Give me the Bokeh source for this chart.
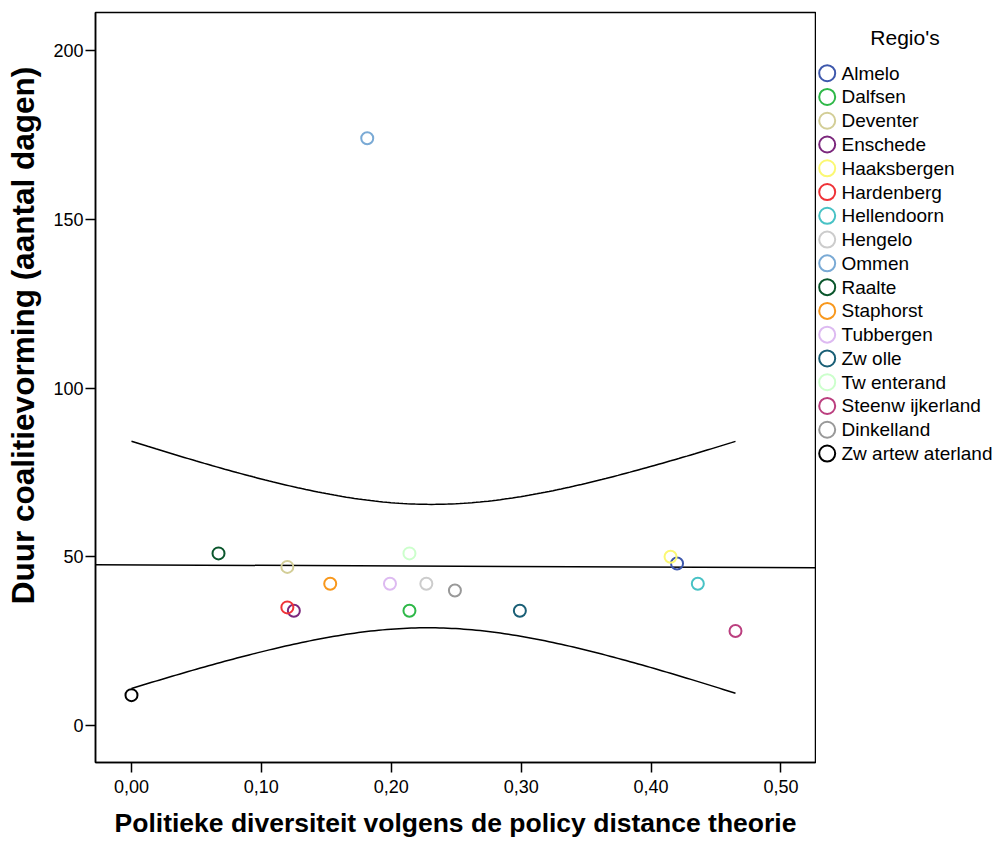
import numpy as np
from bokeh.plotting import figure
from bokeh.models import Range1d, FixedTicker, CustomJSTickFormatter, ColumnDataSource
from bokeh.layouts import row
from bokeh.embed import file_html
from bokeh.resources import INLINE
from bokeh.core.properties import value

# ---------------- data ----------------
regions = ["Almelo", "Dalfsen", "Deventer", "Enschede", "Haaksbergen", "Hardenberg",
           "Hellendoorn", "Hengelo", "Ommen", "Raalte", "Staphorst", "Tubbergen",
           "Zw olle", "Tw enterand", "Steenw ijkerland", "Dinkelland", "Zw artew aterland"]
diversity = [0.420, 0.214, 0.120, 0.125, 0.415, 0.120,
             0.436, 0.227, 0.1815, 0.067, 0.153, 0.199,
             0.299, 0.214, 0.465, 0.249, 0.000]
duration = [48, 34, 47, 34, 50, 35,
            42, 42, 174, 51, 42, 42,
            34, 51, 28, 40, 9]
colors = ["#3E58AC", "#2EB848", "#D3CE97", "#7C287D", "#FBF873", "#EF3338",
          "#48C2C5", "#CCCCCC", "#7AAAD5", "#0A562C", "#F8981D", "#DDBAF1",
          "#1A5F76", "#CCFFCC", "#BB3F7F", "#999999", "#000000"]
x_ticks = [0.0, 0.1, 0.2, 0.3, 0.4, 0.5]
y_ticks = [0, 50, 100, 150, 200]
legend_title = "Regio's"
x_title = "Politieke diversiteit volgens de policy distance theorie"
y_title = "Duur coalitievorming (aantal dagen)"

FONT = "Liberation Sans"

# ---------------- linear fit with 95% CI of the mean ----------------
xa = np.array(diversity, dtype=float)
ya = np.array(duration, dtype=float)
n = len(xa)
b1, b0 = np.polyfit(xa, ya, 1)
resid = ya - (b0 + b1 * xa)
s = np.sqrt((resid ** 2).sum() / (n - 2))
sxx = ((xa - xa.mean()) ** 2).sum()
T_CRIT = 2.131  # t(0.975, df = n-2 = 15)
xg = np.linspace(xa.min(), xa.max(), 150)
half = T_CRIT * s * np.sqrt(1.0 / n + (xg - xa.mean()) ** 2 / sxx)
fit_g = b0 + b1 * xg

x_lo, x_hi = -0.0277, 0.5266
y_lo, y_hi = -10.96, 211.26

H = 841
TOP, BOTTOM = 12, 79
YLAB_W = 45
LEFT = 95 - YLAB_W


def panel(width):
    f = figure(width=width, height=H, x_range=Range1d(0, width),
               y_range=Range1d(H - BOTTOM, TOP),
               output_backend="svg", toolbar_location=None,
               x_axis_location=None, y_axis_location=None,
               min_border_left=0, min_border_right=0, min_border_top=TOP, min_border_bottom=BOTTOM)
    f.grid.visible = False
    f.outline_line_color = None
    f.background_fill_color = "white"
    f.border_fill_color = "white"
    return f


# ---------------- y-axis title panel (page-pixel coordinates) ----------------
yl = panel(YLAB_W)
yl.text(x=[22], y=[335], text=[y_title], angle=np.pi / 2,
        text_align="center", text_baseline="middle",
        text_font=value(FONT), text_font_size="31.5px", text_font_style="bold",
        text_color="black")

# ---------------- main figure ----------------
p = figure(width=816 - YLAB_W, height=H, x_range=Range1d(x_lo, x_hi), y_range=Range1d(y_lo, y_hi),
           output_backend="svg", toolbar_location=None,
           min_border_left=LEFT, min_border_right=1, min_border_top=TOP, min_border_bottom=BOTTOM)
p.grid.visible = False
p.background_fill_color = "white"
p.border_fill_color = "white"
p.outline_line_color = "black"
p.outline_line_width = 1.5

for ax in (p.xaxis[0], p.yaxis[0]):
    ax.axis_line_color = "black"
    ax.axis_line_width = 1.5
    ax.major_tick_line_color = "black"
    ax.major_tick_line_width = 1.5
    ax.major_tick_out = 10
    ax.major_tick_in = 0
    ax.minor_tick_line_color = None
    ax.major_label_text_font = FONT
    ax.major_label_text_font_size = "18px"
    ax.major_label_text_color = "black"

p.xaxis.ticker = FixedTicker(ticks=x_ticks)
p.xaxis.formatter = CustomJSTickFormatter(code="return tick.toFixed(2).replace('.', ',');")
p.xaxis.major_label_standoff = 7
p.xaxis.axis_label = x_title
p.xaxis.axis_label_text_font = FONT
p.xaxis.axis_label_text_font_size = "26.5px"
p.xaxis.axis_label_text_font_style = "bold"
p.xaxis.axis_label_text_color = "black"
p.xaxis.axis_label_standoff = 12

p.yaxis.ticker = FixedTicker(ticks=y_ticks)
p.yaxis.major_label_standoff = 2

# fit line across the whole x range, CI bands over the data range
p.line(x=[x_lo, x_hi], y=[b0 + b1 * x_lo, b0 + b1 * x_hi], line_color="black", line_width=1.5)
p.line(x=xg, y=fit_g + half, line_color="black", line_width=1.5)
p.line(x=xg, y=fit_g - half, line_color="black", line_width=1.5)

src = ColumnDataSource(dict(x=diversity, y=duration, c=colors, r=regions))
p.scatter("x", "y", source=src, size=12, fill_color=None, line_color="c", line_width=2)

# ---------------- legend panel (page-pixel coordinates) ----------------
lg = panel(176)
row_y = [72.7 + 23.77 * i for i in range(len(regions))]
lsrc = ColumnDataSource(dict(x=[10.7] * len(regions), tx=[25] * len(regions), y=row_y,
                             c=colors, r=regions))
lg.scatter("x", "y", source=lsrc, size=16, fill_color=None, line_color="c", line_width=2)
lg.text("tx", "y", text="r", source=lsrc, text_baseline="middle", text_align="left",
        text_font=value(FONT), text_font_size="19px", text_color="black")
lg.text(x=[88.5], y=[37], text=[legend_title], text_baseline="middle", text_align="center",
        text_font=value(FONT), text_font_size="21px", text_color="black")

layout = row(yl, p, lg, spacing=0)
open("out.html", "w").write(file_html(layout, INLINE))
